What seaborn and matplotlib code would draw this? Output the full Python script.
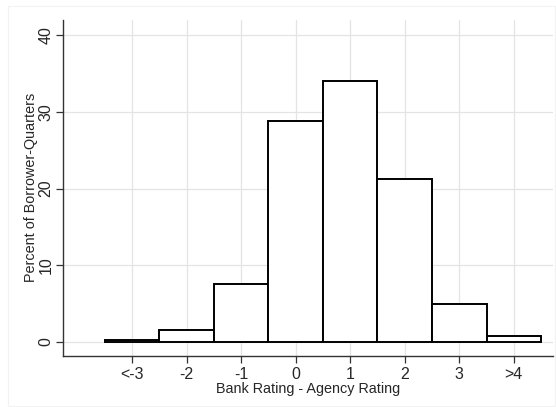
import pandas as pd
import seaborn as sns
import matplotlib.pyplot as plt

# rating gap categories and share of borrower-quarters (%)
categories = ['<-3', '-2', '-1', '0', '1', '2', '3', '>4']
percents = [0.3, 1.6, 7.5, 28.8, 34.0, 21.2, 5.0, 0.8]

df = pd.DataFrame({'gap': categories, 'pct': percents})

sns.set_style('whitegrid')
plt.rcParams['font.family'] = ['Liberation Sans', 'DejaVu Sans']

fig = plt.figure(figsize=(5.56, 4.07), dpi=100)
ax = fig.add_axes([0.1133, 0.126, 0.8813, 0.825])

sns.barplot(
    data=df, x='gap', y='pct', order=categories,
    color='white', edgecolor='black', linewidth=1.4,
    width=1.0, ax=ax, zorder=3
)

ax.set_xlim(-1.27, 7.72)
ax.set_ylim(-1.8, 42.0)
ax.set_yticks([0, 10, 20, 30, 40])
ax.set_yticklabels(['0', '10', '20', '30', '40'], rotation=90, va='center')

ax.grid(True, color='#e4e4e4', linewidth=0.9)
ax.set_axisbelow(True)
for side in ['top', 'right']:
    ax.spines[side].set_visible(False)
for side in ['left', 'bottom']:
    ax.spines[side].set_color('#333333')
    ax.spines[side].set_linewidth(1.0)

ax.tick_params(axis='both', which='major', length=5, width=0.9,
               color='#333333', labelsize=11.5, direction='out',
               bottom=True, left=True)
ax.tick_params(axis='y', pad=2)
ax.tick_params(axis='x', pad=3)
ax.set_xlabel('Bank Rating - Agency Rating', fontsize=10.4, labelpad=0)
ax.set_ylabel('Percent of Borrower-Quarters', fontsize=10.4, labelpad=0)

# faint outer frame of the graph region
fig.patches.append(plt.Rectangle((0.014, 0.003), 0.985, 0.982,
                                 transform=fig.transFigure, fill=False,
                                 edgecolor='#f2f2f2', linewidth=0.8))

fig.savefig('out.png', dpi=100)
